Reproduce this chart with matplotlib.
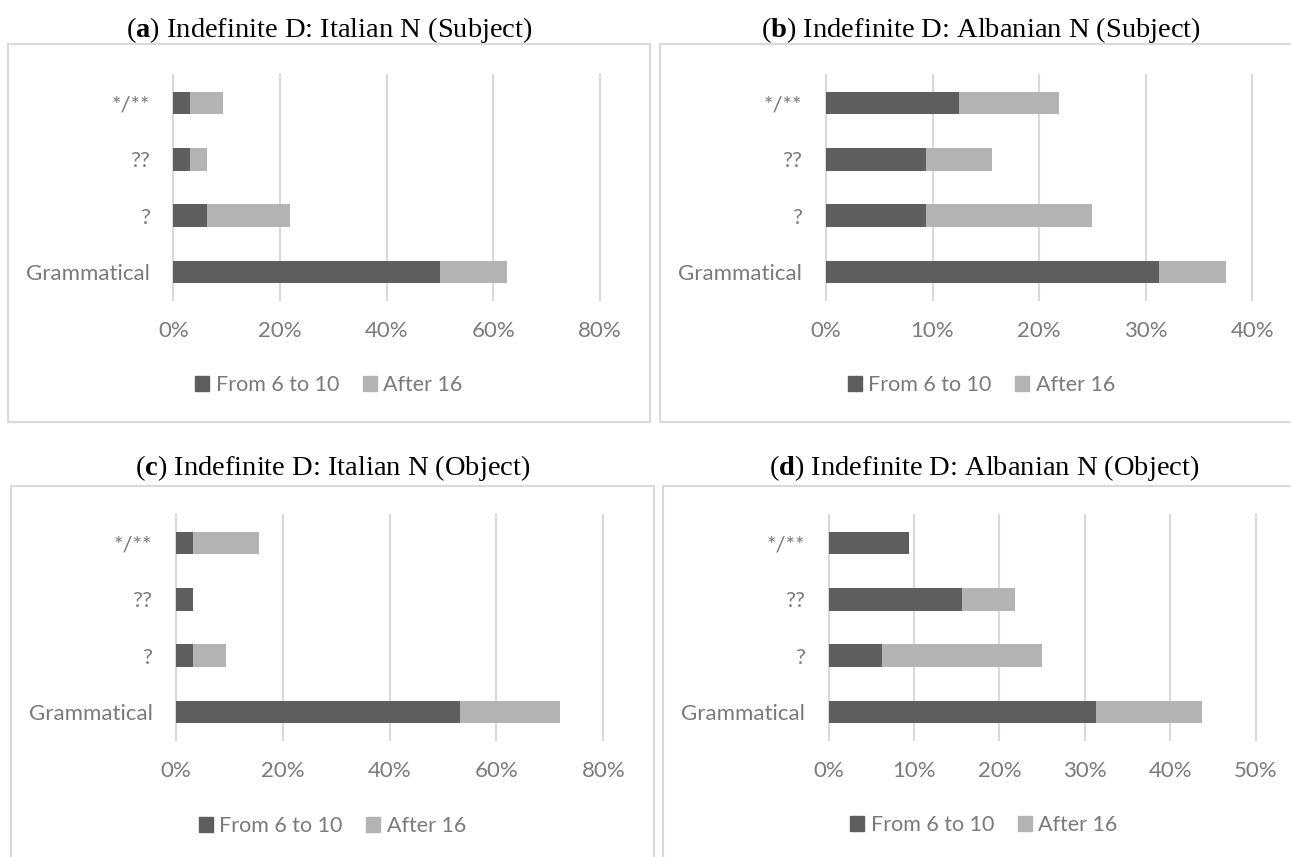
"""
Indefinite D judgements by age of onset: four stacked horizontal bar panels.
"""

import matplotlib.pyplot as plt
from matplotlib.patches import Patch, Rectangle

# ── Data (percent of answers) ──────────────────────────────────
CATEGORIES = ['Grammatical', '?', '??', '*/**']
SERIES = ['From 6 to 10', 'After 16']

A_EARLY = [50.0, 6.25, 3.125, 3.125]
A_LATE = [12.5, 15.625, 3.125, 6.25]
B_EARLY = [31.25, 9.375, 9.375, 12.5]
B_LATE = [6.25, 15.625, 6.25, 9.375]
C_EARLY = [53.125, 3.125, 3.125, 3.125]
C_LATE = [18.75, 6.25, 0.0, 12.5]
D_EARLY = [31.25, 6.25, 15.625, 9.375]
D_LATE = [12.5, 18.75, 6.25, 0.0]

A_TICKS = [0, 20, 40, 60, 80]
B_TICKS = [0, 10, 20, 30, 40]
C_TICKS = [0, 20, 40, 60, 80]
D_TICKS = [0, 10, 20, 30, 40, 50]

TITLES = [
    ('a', 'Indefinite D: Italian N (Subject)'),
    ('b', 'Indefinite D: Albanian N (Subject)'),
    ('c', 'Indefinite D: Italian N (Object)'),
    ('d', 'Indefinite D: Albanian N (Object)'),
]

# ── Style ──────────────────────────────────────────────────────
DARK = '#5e5e5e'
LIGHT = '#b3b3b3'
GRID = '#d9d9d9'
TEXT = '#7a7a7a'
W, H = 1291, 857
OUTPUT_PATH = 'out.png'
# ───────────────────────────────────────────────────────────────

plt.rcParams['font.family'] = ['Lato', 'DejaVu Sans']
plt.rcParams['mathtext.fontset'] = 'custom'
plt.rcParams['mathtext.rm'] = 'Liberation Serif'
plt.rcParams['mathtext.bf'] = 'Liberation Serif:bold'


def fx(x):
    return x / W


def fy(y):
    return 1 - y / H


def draw_panel(fig, box, plot, early, late, ticks, title, title_y, legend_y):
    """One chart: frame, title, stacked bars, legend (pixel layout)."""
    bx0, by0, bx1, by1 = box
    fig.add_artist(Rectangle((fx(bx0), fy(by1)), (bx1 - bx0) / W,
                             (by1 - by0) / H, transform=fig.transFigure,
                             fill=False, edgecolor=GRID, linewidth=1.5))
    cx = (bx0 + bx1) / 2

    letter, text = title
    fig.text(fx(cx), fy(title_y), r'($\mathbf{' + letter + r'}$) ' + text,
             ha='center', va='center', fontsize=20.5,
             family='Liberation Serif', color='black')

    px0, py0, px1, py1 = plot
    ax = fig.add_axes([fx(px0), fy(py1), (px1 - px0) / W, (py1 - py0) / H])
    pos = list(range(len(CATEGORIES)))
    ax.barh(pos, early, height=0.4, color=DARK, zorder=3)
    ax.barh(pos, late, left=early, height=0.4, color=LIGHT, zorder=3)

    ax.set_xlim(ticks[0], ticks[-1])
    ax.set_ylim(-0.5, len(CATEGORIES) - 0.5)
    ax.set_xticks(ticks, [f'{t}%' for t in ticks])
    ax.set_yticks(pos, CATEGORIES)
    ax.grid(axis='x', color=GRID, linewidth=1.5)
    ax.set_axisbelow(True)
    for line in ax.get_xgridlines():
        line.set_clip_on(False)
    for s in ax.spines.values():
        s.set_visible(False)
    ax.tick_params(axis='both', length=0, colors=TEXT, labelsize=16)
    ax.tick_params(axis='x', pad=15)
    ax.tick_params(axis='y', pad=17)

    handles = [Patch(color=DARK), Patch(color=LIGHT)]
    fig.legend(handles, SERIES, loc='center',
               bbox_to_anchor=(fx(cx), fy(legend_y)), ncol=2,
               frameon=False, fontsize=15.5, labelcolor=TEXT,
               handlelength=0.65, handleheight=0.65, handletextpad=0.3,
               columnspacing=1.1)


def plot_panels(output_path):
    fig = plt.figure(figsize=(W / 100, H / 100), dpi=100)

    draw_panel(fig, (7.5, 44, 650.5, 422.5), (173.3, 75, 600, 300),
               A_EARLY, A_LATE, A_TICKS, TITLES[0], 30, 385)
    draw_panel(fig, (659.5, 44, 1303, 422.5), (825.9, 75, 1252.3, 300),
               B_EARLY, B_LATE, B_TICKS, TITLES[1], 30, 385)
    draw_panel(fig, (11, 485.5, 654, 880), (176, 515, 603.3, 740),
               C_EARLY, C_LATE, C_TICKS, TITLES[2], 468, 826)
    draw_panel(fig, (662.5, 485.5, 1305, 880), (828.5, 515, 1255.7, 740),
               D_EARLY, D_LATE, D_TICKS, TITLES[3], 468, 825)

    fig.savefig(output_path, dpi=100)


if __name__ == '__main__':
    plot_panels(OUTPUT_PATH)
